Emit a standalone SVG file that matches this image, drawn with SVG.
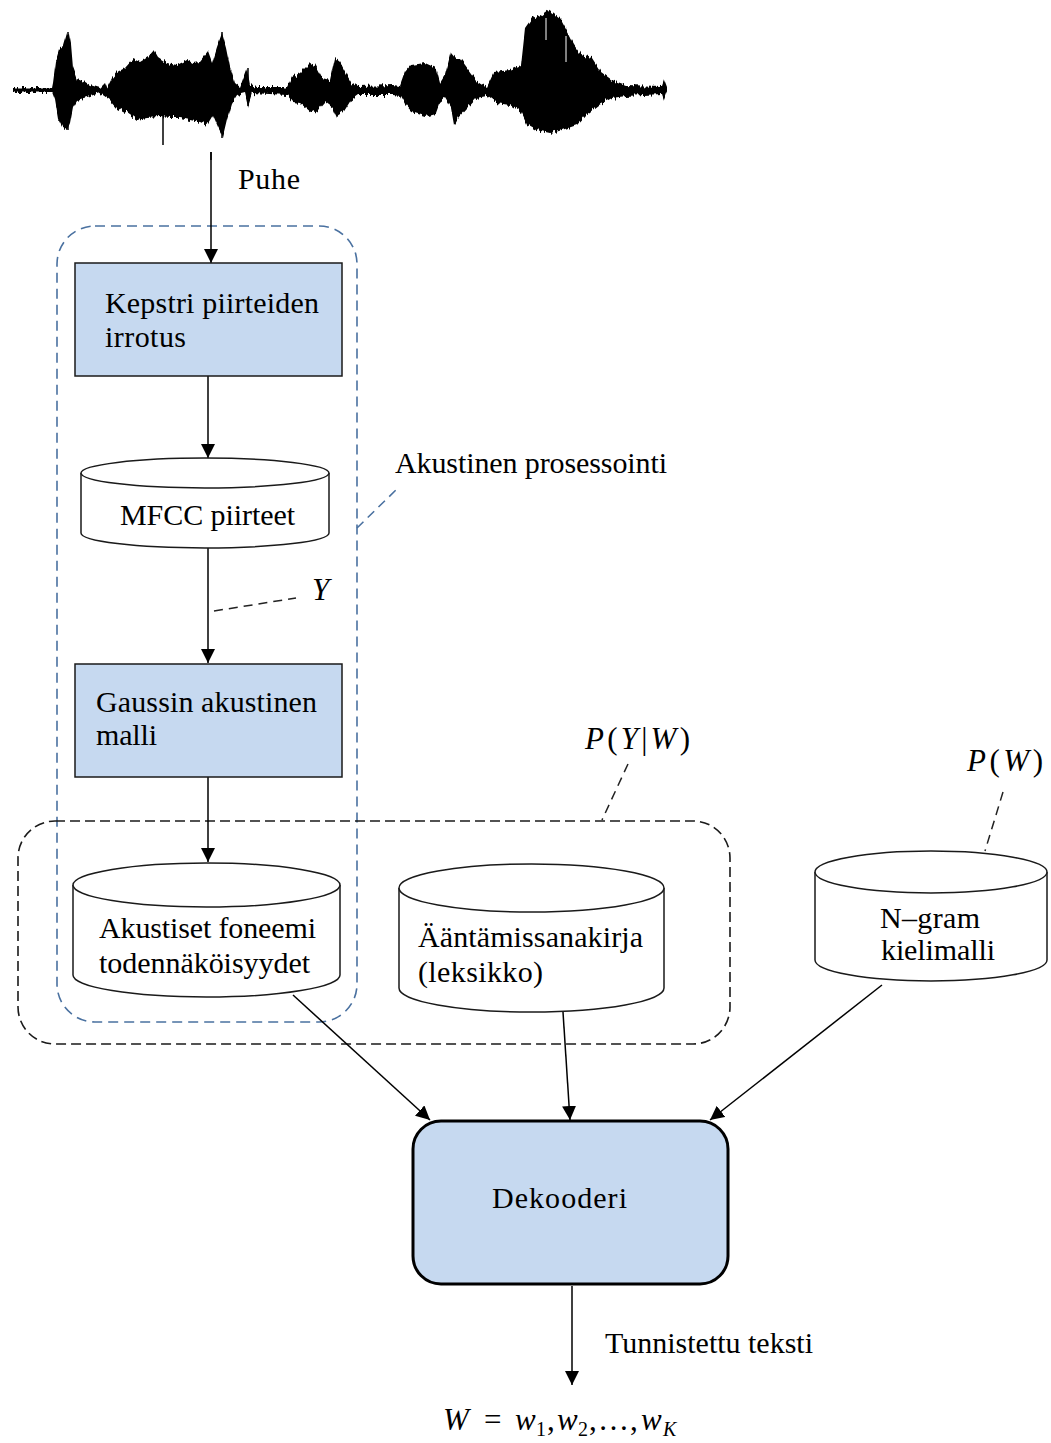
<svg xmlns="http://www.w3.org/2000/svg" width="1051" height="1443" viewBox="0 0 1051 1443">
  <style>
    .t { font-family: "Liberation Serif", "Times New Roman", serif; font-size: 30px; fill: #000; }
    .m { font-size: 31px; }
    .i { font-style: italic; }
    .proc { fill: #c6d9f0; stroke: #1a1a1a; stroke-width: 1.5; }
    .db { fill: #fff; stroke: #1a1a1a; stroke-width: 1.5; }
    .edge { fill: none; stroke: #000; stroke-width: 1.5; marker-end: url(#arrow); }
    .lead { fill: none; stroke: #222; stroke-width: 1.5; stroke-dasharray: 9 6; }
    .grp-blue { fill: none; stroke: #4a71a0; stroke-width: 1.6; stroke-dasharray: 10 6; }
    .grp-black { fill: none; stroke: #1a1a1a; stroke-width: 1.6; stroke-dasharray: 10 5; }
  </style>
  <defs>
    <marker id="arrow" viewBox="0 0 14 14" refX="14" refY="7" markerWidth="14" markerHeight="14" markerUnits="userSpaceOnUse" orient="auto">
      <path d="M0,0 L14,7 L0,14 z" fill="#000"/>
    </marker>
    <!-- vertical jitter that roughens the waveform envelope into spikes -->
    <filter id="rough" x="-2%" y="-30%" width="104%" height="160%">
      <feTurbulence type="fractalNoise" baseFrequency="0.45 0.015" numOctaves="2" seed="7" result="noise"/>
      <feColorMatrix in="noise" type="matrix" values="0 0 0 0 0.5  0 1 0 0 0  0 0 1 0 0  0 0 0 0 1" result="ynoise"/>
      <feDisplacementMap in="SourceGraphic" in2="ynoise" scale="9" xChannelSelector="R" yChannelSelector="G"/>
    </filter>
  </defs>

  <rect width="1051" height="1443" fill="#fff"/>

  <!-- speech waveform -->
  <g id="waveform">
    <path fill="#000" filter="url(#rough)" d="M13,88 L52,88 L53,83 L56,60 L59,50 L63,47 L67,33 L69,32 L71,43 L73,67 L77,78 L82,80 L90,85 L100,88 L105,83 L107,88 L112,78 L117,72 L125,68 L133,59 L140,62 L148,57 L154,50 L158,57 L167,63 L177,65 L187,60 L193,63 L200,62 L208,52 L212,63 L217,47 L222,33 L226,47 L230,67 L235,83 L240,87 L247,68 L250,85 L257,87 L287,87 L292,77 L300,73 L310,63 L315,65 L322,78 L330,80 L335,58 L340,62 L348,77 L351,82 L358,86 L393,85 L400,86 L405,72 L411,65 L425,63 L436,68 L440,83 L445,75 L451,52 L456,58 L460,58 L476,80 L487,87 L494,72 L510,70 L521,65 L525,28 L532,18 L541,15 L548,10 L554,14 L561,20 L568,33 L574,45 L581,55 L592,58 L601,72 L612,80 L626,85 L662,86 L664,80 L667,88 L667,92 L664,100 L662,94 L626,96 L612,98 L599,105 L586,115 L577,125 L568,128 L559,131 L550,133 L536,130 L527,125 L521,112 L510,105 L496,103 L487,96 L476,98 L467,108 L458,118 L454,125 L451,108 L445,98 L440,102 L436,113 L425,116 L411,112 L405,105 L400,96 L393,95 L358,95 L351,100 L343,113 L337,117 L333,108 L325,102 L318,110 L312,113 L300,103 L293,102 L287,95 L252,93 L248,106 L245,93 L237,95 L232,103 L227,120 L223,137 L218,127 L213,115 L207,125 L200,122 L190,120 L180,118 L170,118 L160,117 L147,118 L137,120 L127,113 L117,108 L110,100 L100,93 L87,97 L77,100 L73,107 L70,123 L67,130 L63,128 L58,118 L55,100 L52,92 L13,92 Z"/>
    <!-- baseline and isolated strokes -->
    <g stroke="#000" stroke-width="1.5">
      <line x1="13" y1="90" x2="667" y2="90" stroke-width="3"/>
      <line x1="163" y1="110" x2="163" y2="145"/>
      <line x1="211" y1="152" x2="211" y2="160"/>
      <line x1="248" y1="68" x2="248" y2="106"/>
      <line x1="222" y1="32" x2="222" y2="138"/>
      <line x1="68" y1="32" x2="68" y2="130"/>
    </g>
    <g stroke="#fff" stroke-width="1">
      <line x1="546" y1="18" x2="546" y2="40"/>
      <line x1="566" y1="36" x2="566" y2="62"/>
    </g>
  </g>

  <!-- group outlines -->
  <g id="acoustic-processing-group">
    <rect class="grp-blue" x="57" y="226" width="300" height="796" rx="38" ry="38"/>
    <path d="M357,528 L398,488" fill="none" stroke="#4a71a0" stroke-width="1.6" stroke-dasharray="9 6"/>
    <text class="t" x="395" y="473" textLength="272" lengthAdjust="spacing">Akustinen prosessointi</text>
  </g>
  <g id="likelihood-group">
    <rect class="grp-black" x="18" y="821" width="712" height="223" rx="37" ry="37"/>
    <path class="lead" d="M628,764 L602,820"/>
    <text class="t m" x="585" y="749" textLength="105" lengthAdjust="spacing"><tspan class="i">P</tspan>(<tspan class="i">Y</tspan>|<tspan class="i">W</tspan>)</text>
  </g>

  <!-- connectors -->
  <g id="connectors">
    <path class="edge" d="M211,152 L211,263"/>
    <path class="edge" d="M208,376 L208,458"/>
    <path class="edge" d="M208,548 L208,663"/>
    <path class="edge" d="M208,777 L208,862"/>
    <path class="edge" d="M293,995 L430,1120"/>
    <path class="edge" d="M563,1012 L570,1120"/>
    <path class="edge" d="M882,985 L710,1120"/>
    <path class="edge" d="M572,1286 L572,1385"/>
    <path class="lead" d="M214,611 L296,598"/>
  </g>

  <!-- edge labels -->
  <g id="labels">
    <text class="t" x="238" y="189" textLength="62" lengthAdjust="spacing">Puhe</text>
    <text class="t m i" x="312" y="600">Y</text>
    <text class="t" x="605" y="1353" textLength="208" lengthAdjust="spacing">Tunnistettu teksti</text>
    <text class="t m" y="1430"><tspan x="443" class="i">W</tspan><tspan x="484">=</tspan><tspan x="515" class="i">w</tspan><tspan x="536" dy="6" font-size="20">1</tspan><tspan x="547" dy="-6">,</tspan><tspan x="557" class="i">w</tspan><tspan x="578" dy="6" font-size="20">2</tspan><tspan x="589" dy="-6">,</tspan><tspan x="598">…</tspan><tspan x="630">,</tspan><tspan x="641" class="i">w</tspan><tspan x="663" dy="6" font-size="20" class="i">K</tspan></text>
  </g>

  <!-- nodes -->
  <g id="node-kepstri">
    <rect class="proc" x="75" y="263" width="267" height="113"/>
    <text class="t" x="105" y="313" textLength="214" lengthAdjust="spacing">Kepstri piirteiden</text>
    <text class="t" x="105" y="347" textLength="81" lengthAdjust="spacing">irrotus</text>
  </g>

  <g id="node-mfcc">
    <path class="db" d="M81,473 L81,533 A124,15 0 0 0 329,533 L329,473 A124,15 0 0 0 81,473 Z"/>
    <path class="db" fill="none" d="M81,473 A124,15 0 0 0 329,473"/>
    <text class="t" x="120" y="525" textLength="175" lengthAdjust="spacing">MFCC piirteet</text>
  </g>

  <g id="node-gauss">
    <rect class="proc" x="75" y="664" width="267" height="113"/>
    <text class="t" x="96" y="712" textLength="221" lengthAdjust="spacing">Gaussin akustinen</text>
    <text class="t" x="96" y="745" textLength="61" lengthAdjust="spacing">malli</text>
  </g>

  <g id="node-phoneme">
    <path class="db" d="M73,885 L73,975 A133.5,22 0 0 0 340,975 L340,885 A133.5,22 0 0 0 73,885 Z"/>
    <path class="db" fill="none" d="M73,885 A133.5,22 0 0 0 340,885"/>
    <text class="t" x="99" y="938" textLength="217" lengthAdjust="spacing">Akustiset foneemi</text>
    <text class="t" x="99" y="973" textLength="211" lengthAdjust="spacing">todennäköisyydet</text>
  </g>

  <g id="node-lexicon">
    <path class="db" d="M399,888 L399,988 A132.5,24 0 0 0 664,988 L664,888 A132.5,24 0 0 0 399,888 Z"/>
    <path class="db" fill="none" d="M399,888 A132.5,24 0 0 0 664,888"/>
    <text class="t" x="418" y="947" textLength="225" lengthAdjust="spacing">Ääntämissanakirja</text>
    <text class="t" x="418" y="982" textLength="125" lengthAdjust="spacing">(leksikko)</text>
  </g>

  <g id="node-ngram">
    <path class="db" d="M815,872 L815,960 A116,21 0 0 0 1047,960 L1047,872 A116,21 0 0 0 815,872 Z"/>
    <path class="db" fill="none" d="M815,872 A116,21 0 0 0 1047,872"/>
    <text class="t" x="880" y="928" textLength="100" lengthAdjust="spacing">N–gram</text>
    <text class="t" x="881" y="960" textLength="114" lengthAdjust="spacing">kielimalli</text>
    <path class="lead" d="M1003,792 L985,851"/>
    <text class="t m" x="967" y="771" textLength="76" lengthAdjust="spacing"><tspan class="i">P</tspan>(<tspan class="i">W</tspan>)</text>
  </g>

  <g id="node-decoder">
    <rect x="413" y="1121" width="315" height="163" rx="28" ry="28" fill="#c6d9f0" stroke="#000" stroke-width="3"/>
    <text class="t" x="492" y="1208" textLength="135" lengthAdjust="spacing">Dekooderi</text>
  </g>
</svg>
